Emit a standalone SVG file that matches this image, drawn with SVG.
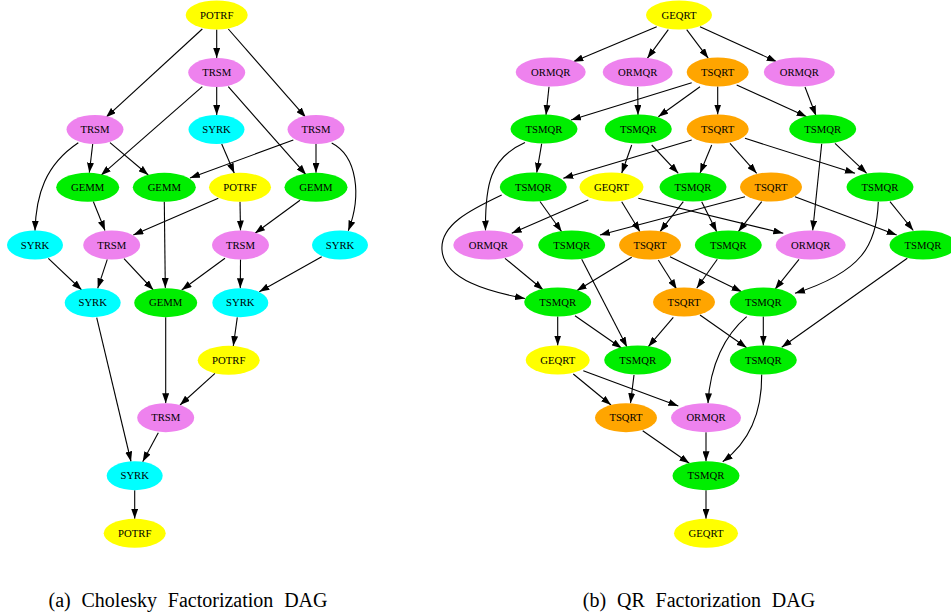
<svg xmlns="http://www.w3.org/2000/svg" width="951" height="615" viewBox="0 0 951 615">
<style>
.n text{font-family:'Liberation Serif','Times New Roman','DejaVu Serif',serif;font-size:10.7px;text-anchor:middle;fill:#000}
.y ellipse{fill:#ffff00}
.v ellipse{fill:#ee82ee}
.c ellipse{fill:#00ffff}
.g ellipse{fill:#00ee00}
.o ellipse{fill:#ffa500}
#edges path{fill:none;stroke:#000;stroke-width:1.1;marker-end:url(#ah)}
.cap{font-family:'Liberation Serif','Times New Roman','DejaVu Serif',serif;font-size:20px;word-spacing:5.8px;text-anchor:middle;fill:#000}
</style>
<defs>
<marker id="ah" markerUnits="userSpaceOnUse" markerWidth="10" markerHeight="7" refX="10" refY="3.5" orient="auto">
<path d="M0,0 L10,3.5 L0,7 z" fill="#000"/>
</marker>
</defs>
<rect width="951" height="615" fill="#fff"/>
<g id="edges">
<path d="M216.7,29.5 L216.7,58"/>
<path d="M202.3,29 L106,117.3"/>
<path d="M228.3,29 L305.7,117.3"/>
<path d="M202.3,86.7 L101,175.3"/>
<path d="M216.7,87 L216.7,115"/>
<path d="M228.3,86.7 L306,174.7"/>
<path d="M78.3,142.7 C45,165 36,195 35,230.7"/>
<path d="M92.7,144 L89.3,172.7"/>
<path d="M110,142.7 L148.3,175"/>
<path d="M221.7,144 L234.3,173.3"/>
<path d="M293.3,140 L190,178"/>
<path d="M316,144 L316,172.7"/>
<path d="M331.7,143 C357,156 362,195 348.3,230.7"/>
<path d="M93.3,201.5 L105,230.5"/>
<path d="M164.3,201.8 L165.3,288"/>
<path d="M218.3,198.3 L133.3,235"/>
<path d="M240,201.8 L240.5,230.5"/>
<path d="M300,200.3 L255,233.3"/>
<path d="M48.3,258.3 L81.7,290"/>
<path d="M107.3,259.3 L97.7,288.3"/>
<path d="M124,258.7 L153.3,290"/>
<path d="M225,258.3 L181.7,290"/>
<path d="M240.5,259.5 L240.3,288.2"/>
<path d="M321.7,256.7 L259.3,291.7"/>
<path d="M96.7,317.7 L131,461.5"/>
<path d="M237.3,317.3 L233.3,346"/>
<path d="M165.7,317.3 L165.7,403.2"/>
<path d="M215,373.3 L180,405"/>
<path d="M158.3,432.7 L142.7,461.7"/>
<path d="M134.7,490.2 L134.7,518.8"/>
<path d="M656.7,26.7 L573.3,61.7"/>
<path d="M668.3,29.7 L647.3,58.3"/>
<path d="M686.7,29.7 L708.3,58.3"/>
<path d="M700,26.7 L776.7,61.7"/>
<path d="M549,86.7 L546,115"/>
<path d="M637.7,87 L638,115"/>
<path d="M691.7,82.7 L571,120"/>
<path d="M700,86.7 L658.3,116.7"/>
<path d="M717.7,86.5 L717.7,114.5"/>
<path d="M736.7,85 L806.7,116.7"/>
<path d="M805,87 L816,115.7"/>
<path d="M541.7,143.7 L536.7,172.7"/>
<path d="M525,142.5 C490,158 485,185 485.5,230.5"/>
<path d="M631.7,145 L621.7,173.3"/>
<path d="M651.7,145 L678.3,173.3"/>
<path d="M691.7,140 L563.3,178.3"/>
<path d="M711.7,145 L700,173.3"/>
<path d="M730,143.3 L756.7,173.3"/>
<path d="M745,138.3 L855,173.3"/>
<path d="M835,143.3 L866.7,173.3"/>
<path d="M821.7,143.7 L812.7,230.5"/>
<path d="M540,201.5 L561.7,231.7"/>
<path d="M501.7,195 C470,210 440,225 442,250 C444,280 490,292 525,298.5"/>
<path d="M588.3,200 L511.7,233.3"/>
<path d="M621.7,201.7 L640,231.7"/>
<path d="M638.3,198.3 L783.3,233.3"/>
<path d="M683.3,201.7 L660,231.7"/>
<path d="M701.7,201.7 L716.7,231.7"/>
<path d="M745,196.7 L600,235"/>
<path d="M761.7,201.7 L738.3,231.7"/>
<path d="M795,196.7 L896.7,235"/>
<path d="M890,201.7 L913.3,230.5"/>
<path d="M878.3,201.7 C877,245 862,272 795,293.3"/>
<path d="M505,258.3 L543.3,290"/>
<path d="M581.7,259.3 L627,347"/>
<path d="M631.7,257.3 L576.7,290.7"/>
<path d="M658.3,260 L676.7,289.3"/>
<path d="M670,256.7 L741.7,291.7"/>
<path d="M717.3,259.3 L696.7,288.3"/>
<path d="M799,259.3 L775,289.3"/>
<path d="M907.3,258.3 L781.7,347.3"/>
<path d="M557.7,316.5 L557.7,345.5"/>
<path d="M575,315.7 L621.7,348.3"/>
<path d="M673.3,317.3 L648.3,346.7"/>
<path d="M700,315 L746.7,347.7"/>
<path d="M763.3,316.5 L763.3,345.5"/>
<path d="M746.7,316.7 C725,335 710,365 708,403.3"/>
<path d="M573.3,374 L611,405"/>
<path d="M583.3,370.7 L678.3,406"/>
<path d="M634,375 L630.5,403.2"/>
<path d="M761.7,374.5 C762,410 752,440 722.7,461.7"/>
<path d="M642.7,430.7 L689.3,463.3"/>
<path d="M706,432.2 L706,461.2"/>
<path d="M706,490.2 L706,518.8"/>
</g>
<g id="c0" class="n y"><ellipse cx="216.7" cy="15" rx="31" ry="14.5"/><text x="216.7" y="18.7">POTRF</text></g>
<g id="c1" class="n v"><ellipse cx="216.7" cy="72.5" rx="28.5" ry="14.5"/><text x="216.7" y="76.2">TRSM</text></g>
<g id="c2" class="n v"><ellipse cx="95" cy="129.5" rx="28.5" ry="14.5"/><text x="95" y="133.2">TRSM</text></g>
<g id="c3" class="n c"><ellipse cx="216.5" cy="129.5" rx="28" ry="14.5"/><text x="216.5" y="133.2">SYRK</text></g>
<g id="c4" class="n v"><ellipse cx="316" cy="129.5" rx="28.5" ry="14.5"/><text x="316" y="133.2">TRSM</text></g>
<g id="c5" class="n g"><ellipse cx="87.7" cy="187.3" rx="31.5" ry="14.5"/><text x="87.7" y="191">GEMM</text></g>
<g id="c6" class="n g"><ellipse cx="164.3" cy="187.3" rx="31.5" ry="14.5"/><text x="164.3" y="191">GEMM</text></g>
<g id="c7" class="n y"><ellipse cx="240" cy="187.3" rx="31" ry="14.5"/><text x="240" y="191">POTRF</text></g>
<g id="c8" class="n g"><ellipse cx="316" cy="187.3" rx="31.5" ry="14.5"/><text x="316" y="191">GEMM</text></g>
<g id="c9" class="n c"><ellipse cx="35" cy="245" rx="28" ry="14.5"/><text x="35" y="248.7">SYRK</text></g>
<g id="c10" class="n v"><ellipse cx="111.7" cy="245" rx="28.5" ry="14.5"/><text x="111.7" y="248.7">TRSM</text></g>
<g id="c11" class="n v"><ellipse cx="240.5" cy="245" rx="28.5" ry="14.5"/><text x="240.5" y="248.7">TRSM</text></g>
<g id="c12" class="n c"><ellipse cx="340" cy="245" rx="28" ry="14.5"/><text x="340" y="248.7">SYRK</text></g>
<g id="c13" class="n c"><ellipse cx="92.7" cy="302.7" rx="28" ry="14.5"/><text x="92.7" y="306.4">SYRK</text></g>
<g id="c14" class="n g"><ellipse cx="165.7" cy="302.7" rx="31.5" ry="14.5"/><text x="165.7" y="306.4">GEMM</text></g>
<g id="c15" class="n c"><ellipse cx="240.3" cy="302.7" rx="28" ry="14.5"/><text x="240.3" y="306.4">SYRK</text></g>
<g id="c16" class="n y"><ellipse cx="228.7" cy="360.3" rx="31" ry="14.5"/><text x="228.7" y="364">POTRF</text></g>
<g id="c17" class="n v"><ellipse cx="165.7" cy="417.7" rx="28.5" ry="14.5"/><text x="165.7" y="421.4">TRSM</text></g>
<g id="c18" class="n c"><ellipse cx="134.7" cy="475.7" rx="28" ry="14.5"/><text x="134.7" y="479.4">SYRK</text></g>
<g id="c19" class="n y"><ellipse cx="134.7" cy="533.3" rx="31" ry="14.5"/><text x="134.7" y="537">POTRF</text></g>
<g id="q0" class="n y"><ellipse cx="679" cy="15" rx="33" ry="14.5"/><text x="679" y="18.7">GEQRT</text></g>
<g id="q1" class="n v"><ellipse cx="550.7" cy="72" rx="35" ry="14.5"/><text x="550.7" y="75.7">ORMQR</text></g>
<g id="q2" class="n v"><ellipse cx="637.7" cy="72" rx="35" ry="14.5"/><text x="637.7" y="75.7">ORMQR</text></g>
<g id="q3" class="n o"><ellipse cx="717.7" cy="72" rx="31" ry="14.5"/><text x="717.7" y="75.7">TSQRT</text></g>
<g id="q4" class="n v"><ellipse cx="799.3" cy="72" rx="35.5" ry="14.5"/><text x="799.3" y="75.7">ORMQR</text></g>
<g id="q5" class="n g"><ellipse cx="544" cy="129" rx="33.5" ry="14.5"/><text x="544" y="132.7">TSMQR</text></g>
<g id="q6" class="n g"><ellipse cx="638.3" cy="129" rx="33.5" ry="14.5"/><text x="638.3" y="132.7">TSMQR</text></g>
<g id="q7" class="n o"><ellipse cx="717.7" cy="129" rx="31" ry="14.5"/><text x="717.7" y="132.7">TSQRT</text></g>
<g id="q8" class="n g"><ellipse cx="822.7" cy="129" rx="33.5" ry="14.5"/><text x="822.7" y="132.7">TSMQR</text></g>
<g id="q9" class="n g"><ellipse cx="533.3" cy="187" rx="33.5" ry="14.5"/><text x="533.3" y="190.7">TSMQR</text></g>
<g id="q10" class="n y"><ellipse cx="611.5" cy="187" rx="32" ry="14.5"/><text x="611.5" y="190.7">GEQRT</text></g>
<g id="q11" class="n g"><ellipse cx="693" cy="187" rx="33.5" ry="14.5"/><text x="693" y="190.7">TSMQR</text></g>
<g id="q12" class="n o"><ellipse cx="771" cy="187" rx="31" ry="14.5"/><text x="771" y="190.7">TSQRT</text></g>
<g id="q13" class="n g"><ellipse cx="880" cy="187" rx="33.5" ry="14.5"/><text x="880" y="190.7">TSMQR</text></g>
<g id="q14" class="n v"><ellipse cx="488.3" cy="245" rx="35" ry="14.5"/><text x="488.3" y="248.7">ORMQR</text></g>
<g id="q15" class="n g"><ellipse cx="571.7" cy="245" rx="33.5" ry="14.5"/><text x="571.7" y="248.7">TSMQR</text></g>
<g id="q16" class="n o"><ellipse cx="650" cy="245" rx="31" ry="14.5"/><text x="650" y="248.7">TSQRT</text></g>
<g id="q17" class="n g"><ellipse cx="728.3" cy="245" rx="33.5" ry="14.5"/><text x="728.3" y="248.7">TSMQR</text></g>
<g id="q18" class="n v"><ellipse cx="810.7" cy="245" rx="35" ry="14.5"/><text x="810.7" y="248.7">ORMQR</text></g>
<g id="q19" class="n g"><ellipse cx="923" cy="245" rx="33.5" ry="14.5"/><text x="923" y="248.7">TSMQR</text></g>
<g id="q20" class="n g"><ellipse cx="557.7" cy="302" rx="33.5" ry="14.5"/><text x="557.7" y="305.7">TSMQR</text></g>
<g id="q21" class="n o"><ellipse cx="684" cy="302" rx="31" ry="14.5"/><text x="684" y="305.7">TSQRT</text></g>
<g id="q22" class="n g"><ellipse cx="763.3" cy="302" rx="33.5" ry="14.5"/><text x="763.3" y="305.7">TSMQR</text></g>
<g id="q23" class="n y"><ellipse cx="557.7" cy="360" rx="32" ry="14.5"/><text x="557.7" y="363.7">GEQRT</text></g>
<g id="q24" class="n g"><ellipse cx="637.7" cy="360" rx="33.5" ry="14.5"/><text x="637.7" y="363.7">TSMQR</text></g>
<g id="q25" class="n g"><ellipse cx="763.3" cy="360" rx="33.5" ry="14.5"/><text x="763.3" y="363.7">TSMQR</text></g>
<g id="q26" class="n o"><ellipse cx="626" cy="417.7" rx="31" ry="14.5"/><text x="626" y="421.4">TSQRT</text></g>
<g id="q27" class="n v"><ellipse cx="706" cy="417.7" rx="35" ry="14.5"/><text x="706" y="421.4">ORMQR</text></g>
<g id="q28" class="n g"><ellipse cx="706" cy="475.7" rx="33.5" ry="14.5"/><text x="706" y="479.4">TSMQR</text></g>
<g id="q29" class="n y"><ellipse cx="706" cy="533.3" rx="32" ry="14.5"/><text x="706" y="537">GEQRT</text></g>
<text class="cap" x="188" y="607">(a) Cholesky Factorization DAG</text>
<text class="cap" x="699" y="607">(b) QR Factorization DAG</text>
</svg>
